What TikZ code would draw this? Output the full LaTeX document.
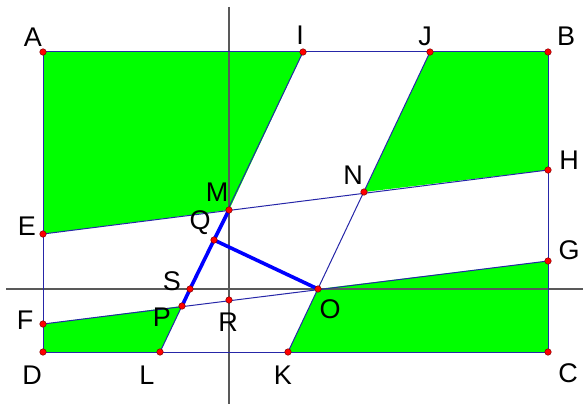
\documentclass[tikz,border=0pt]{standalone}
\usepackage{fontspec}
\setmainfont{Liberation Sans}
\begin{document}
\begin{tikzpicture}[x=1pt,y=-1pt,
  thinline/.style={draw=blue!60!black!85,line width=1pt},
  thickline/.style={draw=blue,line width=3.6pt,line cap=round},
  axis/.style={draw=black!65,line width=1.4pt},
  greenfill/.style={fill=green},
  dot/.style={circle,fill=red,draw=red!50!black,line width=0.5pt,inner sep=0pt,minimum size=6.5pt},
  lab/.style={font=\fontsize{27}{27}\selectfont,inner sep=0pt}]
\useasboundingbox (0,0) rectangle (583,404);
% points
\coordinate (A) at (43,52);
\coordinate (B) at (548,52);
\coordinate (C) at (548,352);
\coordinate (D) at (43,352);
\coordinate (I) at (303,52);
\coordinate (J) at (430,52);
\coordinate (H) at (548,170);
\coordinate (G) at (548,261);
\coordinate (E) at (43,234);
\coordinate (F) at (43,324);
\coordinate (L) at (160,352);
\coordinate (K) at (288,352);
\coordinate (M) at (229,210);
\coordinate (N) at (364,192);
\coordinate (Q) at (214,240);
\coordinate (O) at (318,289);
\coordinate (S) at (190,289);
\coordinate (P) at (182,306);
\coordinate (R) at (229,300);
\coordinate (ax1) at (229,7);
\coordinate (ax2) at (229,404);
\coordinate (ay1) at (6,289);
\coordinate (ay2) at (583,289);
% green regions
\fill[greenfill] (A) -- (I) -- (M) -- (E) -- cycle;
\fill[greenfill] (J) -- (B) -- (H) -- (N) -- cycle;
\fill[greenfill] (F) -- (P) -- (L) -- (D) -- cycle;
\fill[greenfill] (O) -- (G) -- (C) -- (K) -- cycle;
% axes
\draw[axis] (ax1) -- (ax2);
\draw[axis] (ay1) -- (ay2);
% thin lines
\draw[thinline] (A) -- (B) -- (C) -- (D) -- cycle;
\draw[thinline] (E) -- (H);
\draw[thinline] (F) -- (G);
\draw[thinline] (I) -- (L);
\draw[thinline] (J) -- (K);
% thick lines
\draw[thickline] (M) -- (Q) -- (S) -- (P);
\draw[thickline] (Q) -- (O);
% dots
\foreach \p in {A,B,C,D,I,J,H,G,E,F,L,K,M,N,Q,O,S,P,R}
  \node[dot] (d\p) at (\p) {};
% labels
\node[lab] (lA) at (33,37) {A};
\node[lab] (lI) at (300,35) {I};
\node[lab] (lJ) at (425,36) {J};
\node[lab] (lB) at (566,36) {B};
\node[lab] (lH) at (569,160) {H};
\node[lab] (lG) at (569,250) {G};
\node[lab] (lC) at (568,373) {C};
\node[lab] (lD) at (32,375) {D};
\node[lab] (lL) at (147,375) {L};
\node[lab] (lK) at (283,375) {K};
\node[lab] (lE) at (27,226) {E};
\node[lab] (lF) at (25,320) {F};
\node[lab] (lM) at (217,192) {M};
\node[lab] (lN) at (353,175) {N};
\node[lab] (lQ) at (200,223) {Q};
\node[lab] (lS) at (172,281) {S};
\node[lab] (lP) at (162,317) {P};
\node[lab] (lR) at (228,322) {R};
\node[lab] (lO) at (330,309) {O};
\end{tikzpicture}
\end{document}
